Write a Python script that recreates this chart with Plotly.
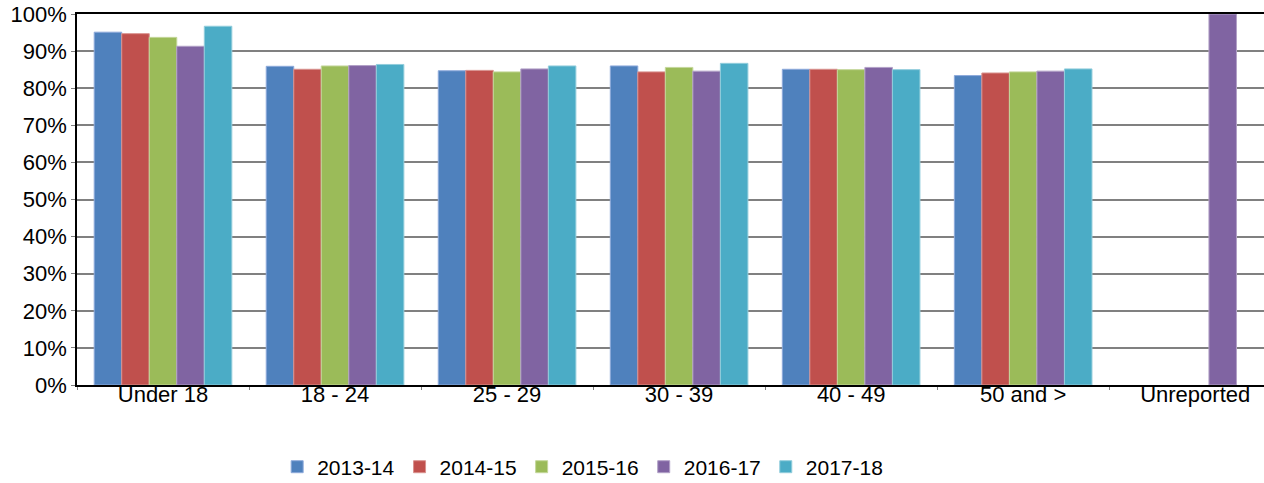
import plotly.graph_objects as go

categories = ["Under 18", "18 - 24", "25 - 29", "30 - 39", "40 - 49", "50 and >", "Unreported"]
series_names = ["2013-14", "2014-15", "2015-16", "2016-17", "2017-18"]
v_2013_14 = [95.1, 85.9, 84.7, 86.0, 85.1, 83.4, None]
v_2014_15 = [94.7, 85.1, 84.8, 84.4, 85.1, 84.1, None]
v_2015_16 = [93.7, 86.0, 84.4, 85.6, 85.0, 84.4, None]
v_2016_17 = [91.3, 86.1, 85.2, 84.6, 85.6, 84.6, 100.0]
v_2017_18 = [96.7, 86.4, 86.0, 86.7, 85.0, 85.2, None]
y_ticks = [0, 10, 20, 30, 40, 50, 60, 70, 80, 90, 100]

colors = ["#4F81BD", "#C0504D", "#9BBB59", "#8064A2", "#4BACC6"]
borders = ["#8EAADB", "#D9928F", "#C4D79B", "#B2A1C7", "#92CDDC"]
all_values = [v_2013_14, v_2014_15, v_2015_16, v_2016_17, v_2017_18]

fig = go.Figure()
for name, vals, c, bc in zip(series_names, all_values, colors, borders):
    fig.add_trace(go.Bar(
        x=categories, y=vals, name=name,
        marker=dict(color=c, line=dict(color=bc, width=1)),
    ))

font_family = "Liberation Sans, Arial, sans-serif"
fig.update_layout(
    width=1264, height=483,
    margin=dict(l=77, r=0, t=14, b=98, autoexpand=False),
    paper_bgcolor="white", plot_bgcolor="white",
    barmode="group", bargap=0.2, bargroupgap=0,
    font=dict(family=font_family, size=22, color="black"),
    showlegend=True,
    legend=dict(orientation="h", x=0.426, xanchor="center",
                yref="container", y=0.033, yanchor="middle",
                font=dict(size=21, family=font_family), itemwidth=30,
                traceorder="normal"),
    xaxis=dict(
        range=[-0.5, 6.40], showline=True, linecolor="black", linewidth=1.5, mirror=True,
        ticks="outside", tickson="boundaries", ticklen=3, tickcolor="#808080",
        showgrid=False, tickfont=dict(size=22), fixedrange=True,
        ticklabelstandoff=-11, ticklabeloverflow="allow", automargin=False,
    ),
    yaxis=dict(
        range=[0, 100], tickvals=y_ticks, ticktext=[f"{t}%" for t in y_ticks],
        showline=True, linecolor="black", linewidth=1.5,
        showgrid=True, gridcolor="#808080", gridwidth=1.5,
        ticks="outside", ticklen=4, tickcolor="#808080",
        tickfont=dict(size=22), zeroline=False, automargin=False,
    ),
)

fig.write_html(
    "out.html",
    config={"displayModeBar": False},
    post_script="document.body.style.margin='0';document.body.style.overflow='hidden';",
)
